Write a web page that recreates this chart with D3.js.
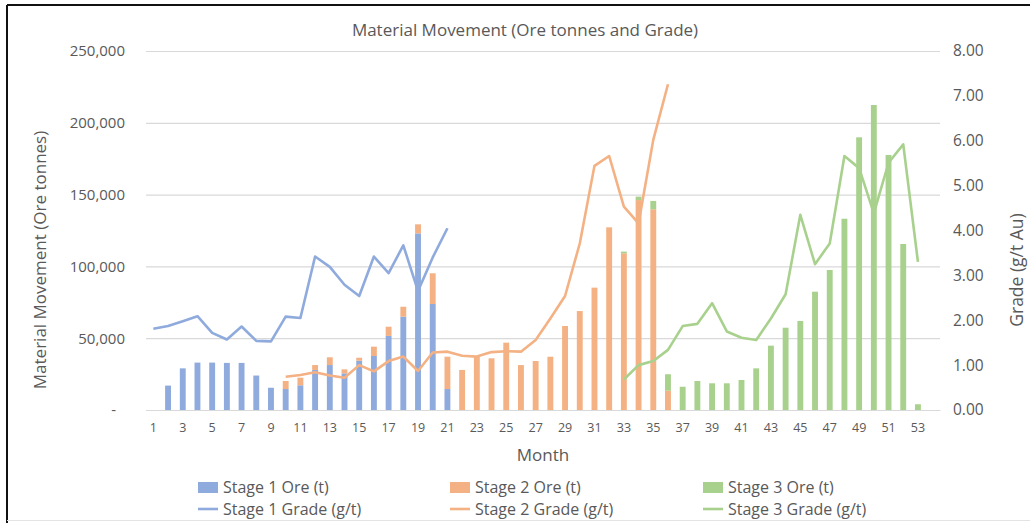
<!DOCTYPE html>
<html>
<head>
<meta charset="utf-8">
<script src="https://cdn.jsdelivr.net/npm/d3@7"></script>
<style>
  body { margin: 0; background: #fff; }
  text { font-family: "Open Sans", "Noto Sans", sans-serif; fill: #595959; }
</style>
</head>
<body>
<div id="chart"></div>
<script>
// Categories (month 54 is an empty slot at the end of the axis)
const months = d3.range(1, 55);
const monthTicks = d3.range(1, 54, 2);

// Ore tonnes per stage, each list starts at the given month
const stage1Start = 1;
const stage1Ore = [0, 17000, 29000, 33000, 33000, 32800, 32800, 24000, 15500, 14600,
  17200, 27900, 31300, 25500, 34300, 37600, 51600, 65000, 123000, 73800, 14600];
const stage2Start = 10;
const stage2Ore = [5600, 5300, 3400, 5400, 2800, 2100, 6500, 6400, 6900, 6300,
  21400, 22500, 27900, 37100, 36000, 46900, 31300, 34100, 37100, 58500,
  68900, 85200, 127200, 109100, 146200, 139800, 13400];
const stage3Start = 33;
const stage3Ore = [1200, 2400, 5800, 11500, 16200, 20200, 18600, 18600, 20900, 29000,
  44800, 57300, 62000, 82400, 97500, 133200, 189900, 212400, 177600, 115600, 4000];

// Grade (g/t Au) per stage, same start months
const stage1Grade = [1.81, 1.87, 1.98, 2.09, 1.72, 1.57, 1.86, 1.54, 1.53, 2.08,
  2.05, 3.42, 3.19, 2.79, 2.54, 3.42, 3.05, 3.67, 2.65, 3.40, 4.05];
const stage2Grade = [0.74, 0.78, 0.84, 0.77, 0.72, 1.00, 0.86, 1.09, 1.19, 0.87,
  1.28, 1.30, 1.21, 1.19, 1.29, 1.31, 1.30, 1.56, 2.04, 2.54,
  3.71, 5.44, 5.66, 4.53, 4.16, 6.02, 7.26];
const stage3Grade = [0.68, 1.00, 1.09, 1.34, 1.87, 1.92, 2.38, 1.75, 1.61, 1.56,
  2.04, 2.58, 4.35, 3.25, 3.71, 5.66, 5.39, 4.38, 5.51, 5.92, 3.30];

const oreTicks = [0, 50000, 100000, 150000, 200000, 250000];
const gradeTicks = [0, 1, 2, 3, 4, 5, 6, 7, 8];

const seriesNames = ["Stage 1", "Stage 2", "Stage 3"];
const colors = ["#8faadc", "#f4b183", "#a9d18e"];

// Chart size and plot area
const W = 1030, H = 523;
const plot = { left: 146, right: 940, top: 51, bottom: 410 };

const svg = d3.select("#chart").append("svg")
  .attr("width", W)
  .attr("height", H);

// Frame of the pasted chart
svg.append("line").attr("x1", 7).attr("x2", W).attr("y1", 5).attr("y2", 5)
  .attr("stroke", "#111").attr("stroke-width", 2);
svg.append("line").attr("x1", 7).attr("x2", 7).attr("y1", 5).attr("y2", H)
  .attr("stroke", "#111").attr("stroke-width", 2);
svg.append("line").attr("x1", 7).attr("x2", W).attr("y1", 520.5).attr("y2", 520.5)
  .attr("stroke", "#e3e3e3").attr("stroke-width", 1);

// Scales
const x = d3.scaleBand()
  .domain(months)
  .range([plot.left, plot.right])
  .paddingInner(0.6)
  .paddingOuter(0.3);
const y = d3.scaleLinear().domain([0, 250000]).range([plot.bottom, plot.top]);
const y2 = d3.scaleLinear().domain([0, 8]).range([plot.bottom, plot.top]);
const cx = m => x(m) + x.bandwidth() / 2;

// Build table for stacking
function valueAt(arr, start, m) {
  const i = m - start;
  return i >= 0 && i < arr.length ? arr[i] : null;
}
const table = months.map(m => ({
  month: m,
  s1: valueAt(stage1Ore, stage1Start, m) || 0,
  s2: valueAt(stage2Ore, stage2Start, m) || 0,
  s3: valueAt(stage3Ore, stage3Start, m) || 0
}));
const stacked = d3.stack().keys(["s1", "s2", "s3"])(table);

// Gridlines
svg.append("g")
  .attr("transform", "translate(" + plot.left + ",0)")
  .call(d3.axisLeft(y).tickValues(oreTicks).tickSize(-(plot.right - plot.left)).tickFormat(""))
  .call(g => g.select(".domain").remove())
  .call(g => g.selectAll("line").attr("stroke", "#d9d9d9").attr("stroke-width", 1.2));

// Stacked bars
svg.append("g").selectAll("g")
  .data(stacked)
  .enter().append("g")
  .attr("fill", (d, i) => colors[i])
  .selectAll("rect")
  .data(d => d.filter(p => p[1] > p[0]))
  .enter().append("rect")
  .attr("x", d => x(d.data.month))
  .attr("width", x.bandwidth())
  .attr("y", d => y(d[1]))
  .attr("height", d => y(d[0]) - y(d[1]));

// Grade lines
const gradeSeries = [
  { start: stage1Start, values: stage1Grade },
  { start: stage2Start, values: stage2Grade },
  { start: stage3Start, values: stage3Grade }
];
const line = d3.line()
  .x(d => cx(d.month))
  .y(d => y2(d.value));
svg.append("g").selectAll("path")
  .data(gradeSeries)
  .enter().append("path")
  .attr("d", s => line(s.values.map((v, i) => ({ month: s.start + i, value: v }))))
  .attr("fill", "none")
  .attr("stroke", (d, i) => colors[i])
  .attr("stroke-width", 2.6)
  .attr("stroke-linejoin", "round");

// Left axis
svg.append("g")
  .attr("transform", "translate(" + plot.left + ",0)")
  .call(d3.axisLeft(y).tickValues(oreTicks).tickSize(0).tickPadding(21)
    .tickFormat(d => d === 0 ? "-" : d3.format(",")(d)))
  .call(g => g.select(".domain").remove())
  .call(g => g.selectAll("text").attr("font-size", 15).style("font-family", null)
    .attr("dx", d => d === 0 ? -9 : 0));

// Right axis
svg.append("g")
  .attr("transform", "translate(" + plot.right + ",0)")
  .call(d3.axisRight(y2).tickValues(gradeTicks).tickSize(0).tickPadding(13)
    .tickFormat(d3.format(".2f")))
  .call(g => g.select(".domain").remove())
  .call(g => g.selectAll("text").attr("font-size", 15.5).style("font-family", null));

// Bottom axis
svg.append("g")
  .attr("transform", "translate(0," + plot.bottom + ")")
  .call(d3.axisBottom(x).tickValues(monthTicks).tickSize(0).tickPadding(13))
  .call(g => g.select(".domain").attr("stroke", "#d9d9d9").attr("stroke-width", 1.2))
  .call(g => g.selectAll("text").attr("font-size", 12.5).style("font-family", null));

// Titles
svg.append("text")
  .attr("x", 525).attr("y", 36)
  .attr("text-anchor", "middle")
  .attr("font-size", 17)
  .text("Material Movement (Ore tonnes and Grade)");
svg.append("text")
  .attr("transform", "translate(46,260) rotate(-90)")
  .attr("text-anchor", "middle")
  .attr("font-size", 17)
  .text("Material Movement (Ore tonnes)");
svg.append("text")
  .attr("transform", "translate(1023,270) rotate(-90)")
  .attr("text-anchor", "middle")
  .attr("font-size", 17.5)
  .text("Grade (g/t Au)");
svg.append("text")
  .attr("x", 543).attr("y", 461)
  .attr("text-anchor", "middle")
  .attr("font-size", 17)
  .text("Month");

// Legend
const legendX = [198, 450, 703];
const legend = svg.append("g");
seriesNames.forEach((name, i) => {
  legend.append("rect")
    .attr("x", legendX[i]).attr("y", 482)
    .attr("width", 20).attr("height", 11)
    .attr("fill", colors[i]);
  legend.append("text")
    .attr("x", legendX[i] + 25).attr("y", 493)
    .attr("font-size", 16)
    .text(name + " Ore (t)");
  legend.append("line")
    .attr("x1", legendX[i]).attr("x2", legendX[i] + 20)
    .attr("y1", 509).attr("y2", 509)
    .attr("stroke", colors[i]).attr("stroke-width", 2.6);
  legend.append("text")
    .attr("x", legendX[i] + 25).attr("y", 515)
    .attr("font-size", 16)
    .text(name + " Grade (g/t)");
});
</script>
</body>
</html>
